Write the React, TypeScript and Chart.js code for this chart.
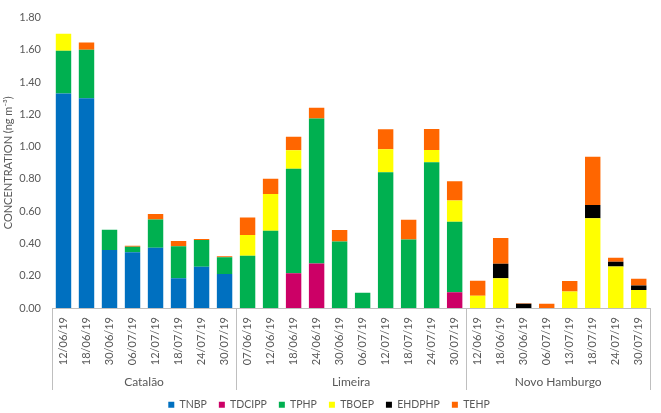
import React, { useEffect, useRef } from "react";
import { Chart, registerables } from "chart.js";

Chart.register(...registerables);

const categories = [
  "12/06/19", "18/06/19", "30/06/19", "06/07/19", "12/07/19", "18/07/19", "24/07/19", "30/07/19",
  "07/06/19", "12/06/19", "18/06/19", "24/06/19", "30/06/19", "06/07/19", "12/07/19", "18/07/19", "24/07/19", "30/07/19",
  "12/06/19", "18/06/19", "30/06/19", "06/07/19", "13/07/19", "18/07/19", "24/07/19", "30/07/19",
];

const groupNames = ["Catalão", "Limeira", "Novo Hamburgo"];
const groupSizes = [8, 10, 8];

const TNBP = [1.33, 1.30, 0.36, 0.346, 0.374, 0.185, 0.255, 0.211, 0, 0, 0, 0, 0, 0, 0, 0, 0, 0, 0, 0, 0, 0, 0, 0, 0, 0];
const TDCIPP = [0, 0, 0, 0, 0, 0, 0, 0, 0, 0, 0.215, 0.276, 0, 0, 0, 0, 0, 0.097, 0, 0, 0, 0, 0, 0, 0, 0];
const TPHP = [0.265, 0.30, 0.125, 0.034, 0.175, 0.197, 0.167, 0.103, 0.324, 0.479, 0.648, 0.899, 0.412, 0.094, 0.841, 0.424, 0.903, 0.438, 0, 0, 0, 0, 0, 0, 0, 0];
const TBOEP = [0.105, 0, 0, 0, 0, 0, 0, 0, 0.128, 0.227, 0.115, 0, 0, 0, 0.143, 0, 0.077, 0.131, 0.076, 0.185, 0, 0, 0.103, 0.557, 0.258, 0.112];
const EHDPHP = [0, 0, 0, 0, 0, 0, 0, 0, 0, 0, 0, 0, 0, 0, 0, 0, 0, 0, 0, 0.089, 0.026, 0, 0, 0.081, 0.028, 0.027];
const TEHP = [0, 0.045, 0, 0.006, 0.034, 0.034, 0.006, 0.006, 0.109, 0.095, 0.084, 0.066, 0.071, 0, 0.124, 0.123, 0.13, 0.12, 0.093, 0.16, 0.004, 0.026, 0.064, 0.299, 0.026, 0.042];

const seriesNames = ["TNBP", "TDCIPP", "TPHP", "TBOEP", "EHDPHP", "TEHP"];
const seriesValues = [TNBP, TDCIPP, TPHP, TBOEP, EHDPHP, TEHP];
const seriesColors = ["#0070C0", "#CC0066", "#00B050", "#FFFF00", "#000000", "#FF6600"];

const FONT = "Lato, 'Open Sans', sans-serif";
const TEXT = "#595959";
const LINE = "#BFBFBF";
const BOTTOM_PAD = -7;

const groupPlugin = {
  id: "groupLabels",
  afterDraw(chart: any) {
    const x = chart.scales.x;
    const ctx = chart.ctx;
    const bottom = chart.chartArea.bottom;
    const step = x.getPixelForValue(1) - x.getPixelForValue(0);
    ctx.save();
    ctx.strokeStyle = LINE;
    ctx.lineWidth = 1;
    let start = 0;
    const edges: number[] = [];
    edges.push(x.getPixelForValue(0) - step / 2);
    groupSizes.forEach((size, gi) => {
      const end = start + size - 1;
      const right = x.getPixelForValue(end) + step / 2;
      edges.push(right);
      const center = (x.getPixelForValue(start) + x.getPixelForValue(end)) / 2;
      ctx.fillStyle = TEXT;
      ctx.font = "12px " + FONT;
      ctx.textAlign = "center";
      ctx.textBaseline = "middle";
      ctx.fillText(groupNames[gi], center, 382);
      start += size;
    });
    edges.forEach((e) => {
      const px = Math.round(e) + 0.5;
      ctx.beginPath();
      ctx.moveTo(px, bottom);
      ctx.lineTo(px, 390);
      ctx.stroke();
    });
    ctx.restore();
  },
};

export default function App() {
  const ref = useRef<HTMLCanvasElement>(null);
  useEffect(() => {
    document.body.style.margin = "0";
    const chart = new Chart(ref.current!, {
      type: "bar",
      data: {
        labels: categories,
        datasets: seriesNames.map((name, i) => ({
          label: name,
          data: seriesValues[i],
          backgroundColor: seriesColors[i],
          borderWidth: 0,
          categoryPercentage: 1,
          barPercentage: 0.67,
        })),
      },
      options: {
        responsive: false,
        animation: false,
        layout: { padding: { top: 7, right: 3, left: 0, bottom: BOTTOM_PAD } },
        plugins: {
          legend: {
            position: "bottom",
            labels: {
              boxWidth: 6,
              boxHeight: 6,
              padding: 12,
              color: TEXT,
              font: { family: FONT, size: 10.5 },
            },
          },
          tooltip: { enabled: false },
        },
        scales: {
          x: {
            stacked: true,
            grid: { display: false, drawTicks: false },
            border: { display: true, color: LINE, width: 1 },
            ticks: {
              minRotation: 90,
              maxRotation: 90,
              autoSkip: false,
              padding: 9,
              color: TEXT,
              font: { family: FONT, size: 11 },
            },
            afterFit: (s: any) => {
              const lh = s.chart.legend ? s.chart.legend.height : 20;
              s.height = 413 - BOTTOM_PAD - 308 - lh;
            },
          },
          y: {
            stacked: true,
            min: 0,
            max: 1.8,
            grid: { display: false, drawTicks: false },
            border: { display: false },
            ticks: {
              stepSize: 0.2,
              padding: 11,
              color: TEXT,
              font: { family: FONT, size: 11 },
              callback: (v: any) => Number(v).toFixed(2),
            },
            title: {
              display: true,
              text: "CONCENTRATION (ng m⁻³)",
              color: TEXT,
              font: { family: FONT, size: 11 },
              padding: { top: 2, bottom: 0 },
            },
            afterFit: (s: any) => {
              s.width = 52;
            },
          },
        },
      },
      plugins: [groupPlugin],
    });
    return () => chart.destroy();
  }, []);
  return <canvas ref={ref} width={661} height={413} />;
}
